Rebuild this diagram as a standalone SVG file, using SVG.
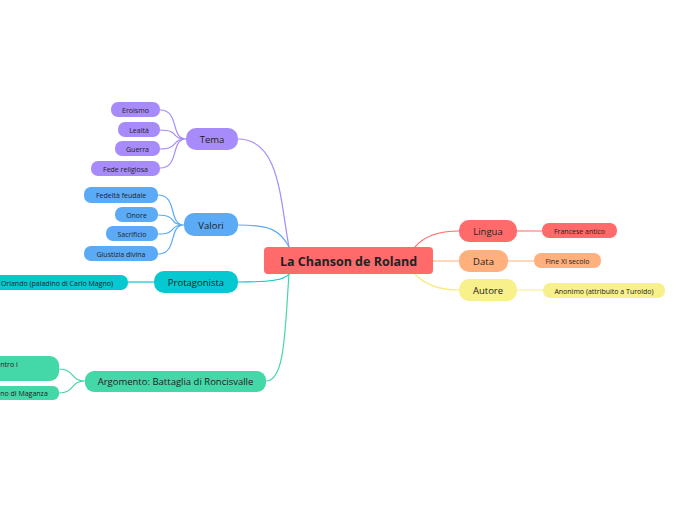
<svg xmlns="http://www.w3.org/2000/svg" width="697" height="520" viewBox="0 0 697 520">
<style>
text{font-family:"Open Sans","Noto Sans",sans-serif;text-anchor:middle;dominant-baseline:central;fill:#222}
.s{font-size:7px}.m{font-size:9.5px}
.c path{fill:none;stroke-width:1.2}
</style>
<rect width="697" height="520" fill="#fff"/>
<g class="c">
<path d="M238,139 C280,139 280,200 289,247" stroke="#A78BFA"/>
<path d="M160,110 C180,110 170,139 186,139 M160,130 C180,130 170,139 186,139 M160,149 C180,149 170,139 186,139 M160,168 C180,168 170,139 186,139" stroke="#A78BFA"/>
<path d="M238,225 C270,225 280,230 289,247" stroke="#5AAAF5"/>
<path d="M158,195 C178,195 168,225 184,225 M158,215 C178,215 168,225 184,225 M158,234 C178,234 168,225 184,225 M158,254 C178,254 168,225 184,225" stroke="#5AAAF5"/>
<path d="M238,282 C270,282 285,280 289,274" stroke="#05C8D0"/>
<path d="M128,282 L154,282" stroke="#05C8D0"/>
<path d="M266,381 C285,381 285,330 289,274" stroke="#44D7A8"/>
<path d="M59,369 C75,369 70,381 85,381 M59,393 C75,393 70,381 85,381" stroke="#44D7A8"/>
<path d="M415,247 C425,235 440,231 459,231 M517,231 L542,231" stroke="#FF6B6B"/>
<path d="M433,261 L459,261 M508,261 L534,261" stroke="#FFB07C"/>
<path d="M415,274 C425,285 440,290 459,290 M517,290 L543,290" stroke="#F8EC80"/>
</g>
<g id="central"><rect x="264" y="247" width="169" height="27" rx="4" fill="#FF6B6B"/><text x="348.5" y="261" font-size="12.5" font-weight="bold" fill="#111">La Chanson de Roland</text></g>
<g id="tema"><rect x="186" y="128" width="52" height="22" rx="10" fill="#A78BFA"/><text class="m" x="212" y="139">Tema</text></g>
<g id="eroismo"><rect x="111" y="102" width="49" height="15" rx="7" fill="#A78BFA"/><text class="s" x="135.5" y="110">Eroismo</text></g>
<g id="lealta"><rect x="118" y="122" width="42" height="15" rx="7" fill="#A78BFA"/><text class="s" x="139" y="130">Lealtà</text></g>
<g id="guerra"><rect x="115" y="141" width="45" height="15" rx="7" fill="#A78BFA"/><text class="s" x="137.5" y="149">Guerra</text></g>
<g id="fede"><rect x="91" y="161" width="69" height="15" rx="7" fill="#A78BFA"/><text class="s" x="125.5" y="169">Fede religiosa</text></g>
<g id="valori"><rect x="184" y="213" width="54" height="23" rx="10" fill="#5AAAF5"/><text class="m" x="211" y="225">Valori</text></g>
<g id="fedelta"><rect x="84" y="187" width="74" height="16" rx="7" fill="#5AAAF5"/><text class="s" x="121" y="195.5">Fedeltà feudale</text></g>
<g id="onore"><rect x="115" y="207" width="43" height="15" rx="7" fill="#5AAAF5"/><text class="s" x="136.5" y="215">Onore</text></g>
<g id="sacrificio"><rect x="106" y="226" width="52" height="15" rx="7" fill="#5AAAF5"/><text class="s" x="132" y="234">Sacrificio</text></g>
<g id="giustizia"><rect x="84" y="246" width="74" height="15" rx="7" fill="#5AAAF5"/><text class="s" x="121" y="254">Giustizia divina</text></g>
<g id="protagonista"><rect x="154" y="271" width="84" height="22" rx="10" fill="#05C8D0"/><text class="m" x="196" y="282">Protagonista</text></g>
<g id="orlando"><rect x="-20" y="275" width="148" height="15" rx="7" fill="#05C8D0"/><text class="s" x="57" y="283">Orlando (paladino di Carlo Magno)</text></g>
<g id="argomento"><rect x="85" y="371" width="181" height="21" rx="9" fill="#44D7A8"/><text class="m" x="175.5" y="381.5">Argomento: Battaglia di Roncisvalle</text></g>
<g id="scontro"><rect x="-20" y="356" width="79" height="25" rx="9" fill="#44D7A8"/><text class="s" x="9" y="364.5">ntro i</text></g>
<g id="gano"><rect x="-20" y="386" width="79" height="14" rx="6" fill="#44D7A8"/><text class="s" x="24" y="393">no di Maganza</text></g>
<g id="lingua"><rect x="459" y="220" width="58" height="22" rx="10" fill="#FF6B6B"/><text class="m" x="488" y="231.5">Lingua</text></g>
<g id="francese"><rect x="542" y="223" width="75" height="15" rx="7" fill="#FF6B6B"/><text class="s" x="579.5" y="231">Francese antico</text></g>
<g id="data"><rect x="459" y="250" width="49" height="22" rx="10" fill="#FFB07C"/><text class="m" x="483.5" y="261">Data</text></g>
<g id="fine"><rect x="534" y="253" width="67" height="15" rx="7" fill="#FFB07C"/><text class="s" x="567.5" y="261">Fine XI secolo</text></g>
<g id="autore"><rect x="459" y="279" width="58" height="22" rx="10" fill="#F8F08A"/><text class="m" x="488" y="290.5">Autore</text></g>
<g id="anonimo"><rect x="543" y="283" width="122" height="15" rx="7" fill="#F8F08A"/><text class="s" x="604" y="291">Anonimo (attribuito a Turoldo)</text></g>
</svg>
